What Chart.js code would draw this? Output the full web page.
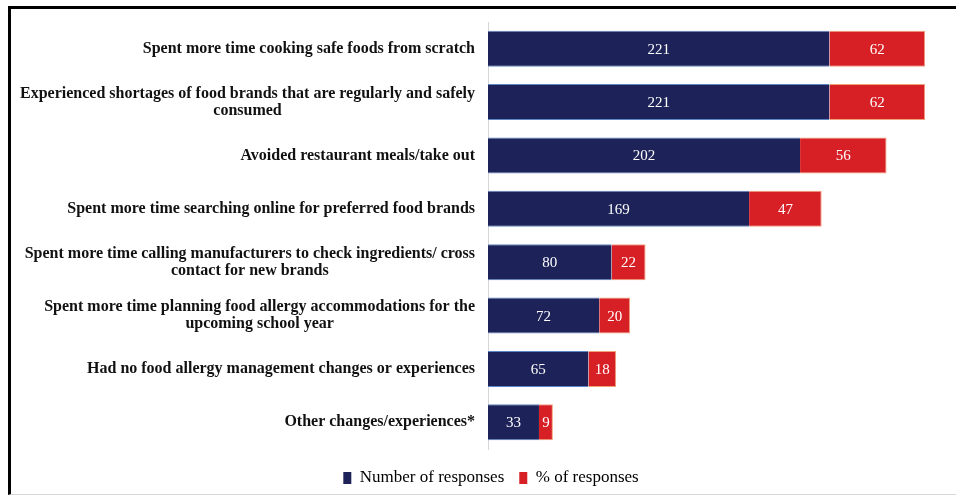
<!DOCTYPE html>
<html>
<head>
<meta charset="utf-8">
<script src="https://cdn.jsdelivr.net/npm/chart.js@4.4.1/dist/chart.umd.min.js"></script>
<style>
  html, body { margin: 0; padding: 0; background: #fff; }
  body { width: 956px; height: 496px; overflow: hidden; position: relative; }
  #frame { position: absolute; left: 8px; top: 6px; width: 970px; height: 485px;
           border-left: 3px solid #000; border-top: 3px solid #000; border-bottom: 1px solid #d8d8d8; }
  #wrap { position: absolute; left: 0; top: 0; width: 956px; height: 496px; }
</style>
</head>
<body>
<div id="frame"></div>
<div id="wrap"><canvas id="c" width="956" height="496"></canvas></div>
<script>
const categories = [
  ["Spent more time cooking safe foods from scratch"],
  ["Experienced shortages of food brands that are regularly and safely", "consumed"],
  ["Avoided restaurant meals/take out"],
  ["Spent more time searching online for preferred food brands"],
  ["Spent more time calling manufacturers to check ingredients/ cross", "contact for new brands"],
  ["Spent more time planning food allergy accommodations for the", "upcoming school year"],
  ["Had no food allergy management changes or experiences"],
  ["Other changes/experiences*"]
];
const numberOfResponses = [221, 221, 202, 169, 80, 72, 65, 33];
const percentOfResponses = [62, 62, 56, 47, 22, 20, 18, 9];
const seriesNames = ["Number of responses", "% of responses"];

const NAVY = '#1d2359';
const RED = '#d71f26';
const LABEL_FONT = 'bold 16px "Liberation Serif", "Times New Roman", serif';
const VALUE_FONT = '15px "Liberation Serif", "Times New Roman", serif';

const labelPlugin = {
  id: 'customLabels',
  afterLayout(chart) {
    const lg = chart.legend;
    if (lg) { lg.top += 5.5; lg.bottom += 5.5; }
  },
  afterDraw(chart) {
    const ctx = chart.ctx;
    const y = chart.scales.y;
    ctx.save();
    ctx.font = LABEL_FONT;
    ctx.fillStyle = '#111';
    ctx.textAlign = 'center';
    ctx.textBaseline = 'middle';
    const rightEdge = chart.chartArea.left - 13;
    const lh = 17;
    categories.forEach((lines, i) => {
      const cy = y.getPixelForValue(i);
      const widest = Math.max(...lines.map(l => ctx.measureText(l).width));
      const cx = rightEdge - widest / 2;
      const start = cy - (lines.length - 1) * lh / 2;
      lines.forEach((l, k) => ctx.fillText(l, cx, start + k * lh));
    });
    ctx.font = VALUE_FONT;
    ctx.fillStyle = '#fff';
    chart.data.datasets.forEach((ds, di) => {
      const meta = chart.getDatasetMeta(di);
      meta.data.forEach((bar, i) => {
        const p = bar.getProps(['x', 'y', 'base'], true);
        ctx.fillText(String(ds.data[i]), (p.x + p.base) / 2, p.y + 1);
      });
    });
    ctx.restore();
  }
};

new Chart(document.getElementById('c'), {
  type: 'bar',
  data: {
    labels: categories.map(l => l.join(' ')),
    datasets: [
      { label: seriesNames[0], data: numberOfResponses, backgroundColor: NAVY,
        borderColor: '#5f86c4', borderWidth: { top: 1, bottom: 1, left: 0, right: 0 }, borderSkipped: false,
        barPercentage: 0.675, categoryPercentage: 1 },
      { label: seriesNames[1], data: percentOfResponses, backgroundColor: RED,
        borderColor: '#f0a27a', borderWidth: { top: 1, bottom: 1, left: 0, right: 1 }, borderSkipped: false,
        barPercentage: 0.675, categoryPercentage: 1 }
    ]
  },
  options: {
    indexAxis: 'y',
    responsive: false,
    animation: false,
    layout: { padding: { top: 22, right: 20, bottom: 5, left: 46 } },
    scales: {
      x: { stacked: true, display: false, min: 0, max: 290 },
      y: {
        stacked: true,
        grid: { display: false },
        border: { display: true, color: '#d6d6d6', width: 1 },
        ticks: { display: false },
        afterFit(scale) { scale.width = 442; }
      }
    },
    plugins: {
      tooltip: { enabled: false },
      legend: {
        position: 'bottom',
        labels: {
          boxWidth: 8, boxHeight: 12, padding: 15,
          color: '#222',
          font: { family: '"Liberation Serif", "Times New Roman", serif', size: 17 },
          generateLabels(chart) {
            return chart.data.datasets.map((ds, i) => ({
              text: ds.label, fillStyle: ds.backgroundColor, strokeStyle: ds.backgroundColor,
              lineWidth: 0, datasetIndex: i, hidden: false
            }));
          }
        }
      }
    }
  },
  plugins: [labelPlugin]
});
</script>
</body>
</html>
